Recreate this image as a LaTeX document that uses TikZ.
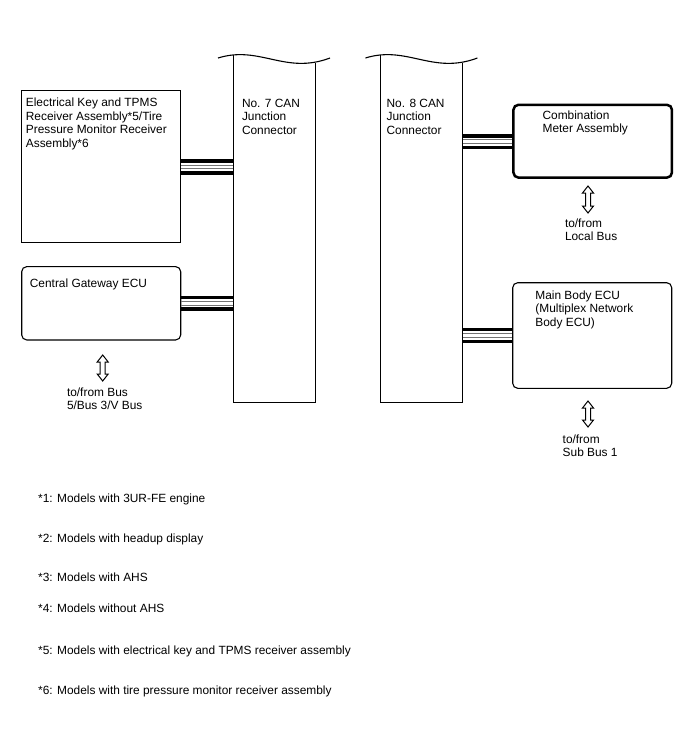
\documentclass[tikz,border=0pt]{standalone}
\usepackage{fontspec}
\setmainfont{Liberation Sans}
\begin{document}
\begin{tikzpicture}[x=1pt,y=-1pt,
  txt/.style={anchor=north west,inner sep=0pt,align=left,font=\fontsize{11.9}{13.5}\selectfont},
  box/.style={draw,line width=1.1pt,inner sep=0pt},
  rbox/.style={box,rounded corners=5pt},
  wall/.style={line width=1.1pt},
  busblack/.style={line width=3.5pt,black},
  busgray/.style={line width=0.9pt,black!55},
  dblarrow/.style={draw,line width=1pt,fill=white}
]
\useasboundingbox (0,0) rectangle (688,755);

% boxes
\node[box,minimum width=159pt,minimum height=152.5pt] (elk) at (101.2,166.5) {};
\node[rbox,minimum width=159pt,minimum height=73.3pt] (cgw) at (101.2,303.3) {};
\node[rbox,line width=2.5pt,minimum width=158.5pt,minimum height=72.8pt] (cmb) at (592.7,141.2) {};
\node[rbox,minimum width=159pt,minimum height=105.6pt] (mbe) at (592.2,335.5) {};

% junction connectors (open top)
\node[inner sep=0pt,minimum width=81.7pt,minimum height=347pt] (j7) at (274.2,229.2) {};
\node[inner sep=0pt,minimum width=82pt,minimum height=347pt] (j8) at (421.7,229.2) {};
\draw[wall] (j7.west |- 0,55) -- (j7.south west) -- (j7.south east) -- (j7.east |- 0,62.5);
\draw[wall] (218,58) .. controls (260,45) and (285,75) .. (330,58);
\draw[wall] (j8.west |- 0,55) -- (j8.south west) -- (j8.south east) -- (j8.east |- 0,62.5);
\draw[wall] (365.4,58) .. controls (407.4,45) and (432.4,75) .. (477.4,58);

% texts
\node[txt] (t1) at (25.7,97.8) {Electrical Key and TPMS\\Receiver Assembly*5/Tire\\Pressure Monitor Receiver\\Assembly*6};
\node[txt] (t2) at (29.7,278.2) {Central Gateway ECU};
\node[txt] (t3) at (241.8,98.5) {No. 7 CAN\\Junction\\Connector};
\node[txt] (t4) at (386.4,98.5) {No. 8 CAN\\Junction\\Connector};
\node[txt] (t5) at (542.4,110.5) {Combination\\Meter Assembly};
\node[txt] (t6) at (535.2,290.5) {Main Body ECU\\(Multiplex Network\\Body ECU)};
\node[txt] (t7) at (564.8,218.5) {to/from\\Local Bus};
\node[txt] (t8) at (562.5,434.5) {to/from\\Sub Bus 1};
\node[txt] (t9) at (66.8,387.5) {to/from Bus\\5/Bus 3/V Bus};

% buses
\foreach \a/\b/\y in {elk/j7/167, cgw/j7/303.3, j8/cmb/141.7, j8/mbe/335.5}{
  \draw[busblack] (\a.east |- 0,\y-5.8) -- (\b.west |- 0,\y-5.8);
  \draw[busblack] (\a.east |- 0,\y+5.8) -- (\b.west |- 0,\y+5.8);
  \draw[busgray] (\a.east |- 0,\y-1.8) -- (\b.west |- 0,\y-1.8);
  \draw[busgray] (\a.east |- 0,\y+1.8) -- (\b.west |- 0,\y+1.8);
}

% double arrows
\foreach \cx/\ya/\yb in {588/186/213, 588/401/427, 102.7/355/381}{
  \draw[dblarrow] (\cx,\ya) -- (\cx+5.5,\ya+7) -- (\cx+2.5,\ya+7) -- (\cx+2.5,\yb-7) -- (\cx+5.5,\yb-7) -- (\cx,\yb) -- (\cx-5.5,\yb-7) -- (\cx-2.5,\yb-7) -- (\cx-2.5,\ya+7) -- (\cx-5.5,\ya+7) -- cycle;
}

% footnotes
\node[txt] (f1) at (38,493.5) {*1: Models with 3UR-FE engine};
\node[txt] (f2) at (38,533.5) {*2: Models with headup display};
\node[txt] (f3) at (38,572.5) {*3: Models with AHS};
\node[txt] (f4) at (38,603.5) {*4: Models without AHS};
\node[txt] (f5) at (38,645.5) {*5: Models with electrical key and TPMS receiver assembly};
\node[txt] (f6) at (38,685.5) {*6: Models with tire pressure monitor receiver assembly};
\end{tikzpicture}
\end{document}
